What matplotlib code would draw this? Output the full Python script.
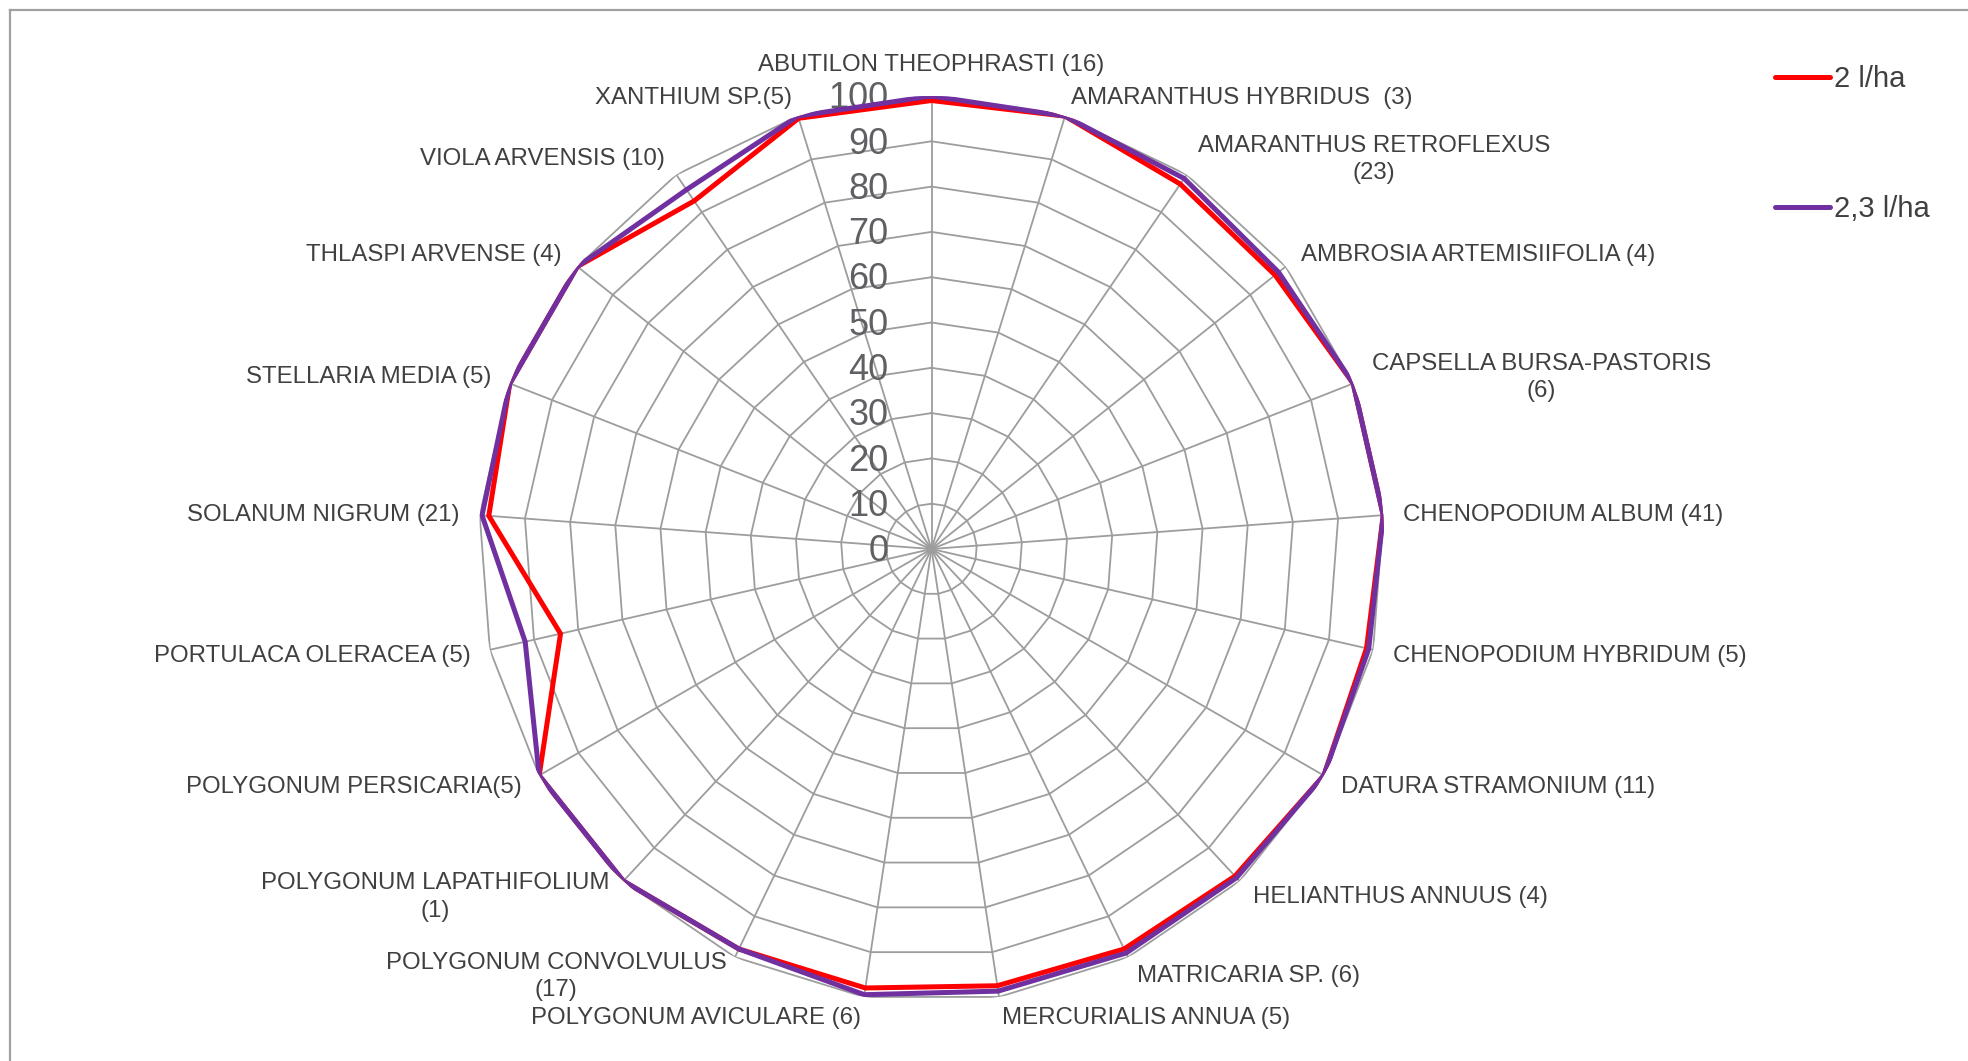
import numpy as np
import matplotlib
matplotlib.use("Agg")
import matplotlib.pyplot as plt
from matplotlib.lines import Line2D

plt.rcParams['font.family'] = ['Liberation Sans', 'DejaVu Sans']

categories = [
    "ABUTILON THEOPHRASTI (16)",
    "AMARANTHUS HYBRIDUS  (3)",
    "AMARANTHUS RETROFLEXUS\n(23)",
    "AMBROSIA ARTEMISIIFOLIA (4)",
    "CAPSELLA BURSA-PASTORIS\n(6)",
    "CHENOPODIUM ALBUM (41)",
    "CHENOPODIUM HYBRIDUM (5)",
    "DATURA STRAMONIUM (11)",
    "HELIANTHUS ANNUUS (4)",
    "MATRICARIA SP. (6)",
    "MERCURIALIS ANNUA (5)",
    "POLYGONUM AVICULARE (6)",
    "POLYGONUM CONVOLVULUS\n(17)",
    "POLYGONUM LAPATHIFOLIUM\n(1)",
    "POLYGONUM PERSICARIA(5)",
    "PORTULACA OLERACEA (5)",
    "SOLANUM NIGRUM (21)",
    "STELLARIA MEDIA (5)",
    "THLASPI ARVENSE (4)",
    "VIOLA ARVENSIS (10)",
    "XANTHIUM SP.(5)",
]

series_names = ["2 l/ha", "2,3 l/ha"]
values_2 = [99, 100, 97.5, 97, 100, 100, 98.5, 100, 98.5, 98, 97.5, 98, 98,
            100, 100, 84, 98, 100, 100, 93, 99.5]
values_23 = [100, 100, 99, 98, 100, 100, 99, 100, 99, 99, 98.7, 99.5, 98,
             100, 100, 92, 99.5, 100, 100, 96, 100]
ticks = [0, 10, 20, 30, 40, 50, 60, 70, 80, 90, 100]

W, H = 1968, 1061
fig = plt.figure(figsize=(W / 100, H / 100), dpi=100)
cx, cy, R = 931.5, 549.0, 453.0
ax = fig.add_axes([(cx - R) / W, (H - cy - R) / H, 2 * R / W, 2 * R / H],
                  projection='polar')
ax.set_theta_zero_location('N')
ax.set_theta_direction(-1)
ax.set_ylim(0, 100)
ax.grid(False)
ax.set_xticks([])
ax.set_yticks([])
ax.spines['polar'].set_visible(False)
ax.patch.set_alpha(0)

n = len(categories)
theta = np.arange(n) * 2 * np.pi / n
theta_c = np.append(theta, theta[0])

grid_col = '#9d9d9d'
for t in ticks[1:]:
    ax.plot(theta_c, [t] * (n + 1), color=grid_col, lw=1.3, zorder=1)
for th in theta:
    ax.plot([th, th], [0, 100], color=grid_col, lw=1.3, zorder=1)

l1, = ax.plot(theta_c, values_2 + values_2[:1], color='#ff0000', lw=3.6,
              solid_joinstyle='miter', zorder=3, label=series_names[0])
l2, = ax.plot(theta_c, values_23 + values_23[:1], color='#7030a0', lw=3.6,
              solid_joinstyle='miter', zorder=4, label=series_names[1])

# category labels
off = 14.4
lab_fs = 17.3
dy = -0.9
for th, lab in zip(theta, categories):
    s, c = np.sin(th), np.cos(th)
    if abs(s) < 1e-6:
        ax.annotate(lab, xy=(th, 100), xytext=(0, 23.5 + dy), textcoords='offset points',
                    ha='center', va='center', fontsize=lab_fs, color='#404040')
        continue
    ha = 'left' if s > 0 else 'right'
    ax.annotate(lab, xy=(th, 100), xytext=(off * s, off * c + dy),
                textcoords='offset points', ha=ha, va='center',
                multialignment='center', fontsize=lab_fs, color='#404040',
                linespacing=1.32)

# radial tick labels
for t in ticks:
    ax.annotate(str(t), xy=(0, t), xytext=(-31, -2), textcoords='offset points',
                ha='right', va='center', fontsize=26, color='#5f5f64', zorder=2)

leg = fig.legend(handles=[l1, l2], labels=series_names,
                 loc='upper left', bbox_to_anchor=(1775 / W, 1 - 65 / H),
                 frameon=False, fontsize=21, handlelength=1.9,
                 handletextpad=0.13, labelspacing=3.5, borderpad=0,
                 borderaxespad=0)
for t in leg.get_texts():
    t.set_color('#404040')
for h in leg.legend_handles:
    h.set_linewidth(3.6)
    h.set_solid_capstyle('round')

# chart frame
fig.add_artist(Line2D([10 / W, 1], [1 - 10 / H, 1 - 10 / H], color='#a0a0a0',
                      lw=1.6, transform=fig.transFigure))
fig.add_artist(Line2D([10 / W, 10 / W], [0, 1 - 10 / H], color='#a0a0a0',
                      lw=1.6, transform=fig.transFigure))

fig.savefig('out.png', dpi=100)
